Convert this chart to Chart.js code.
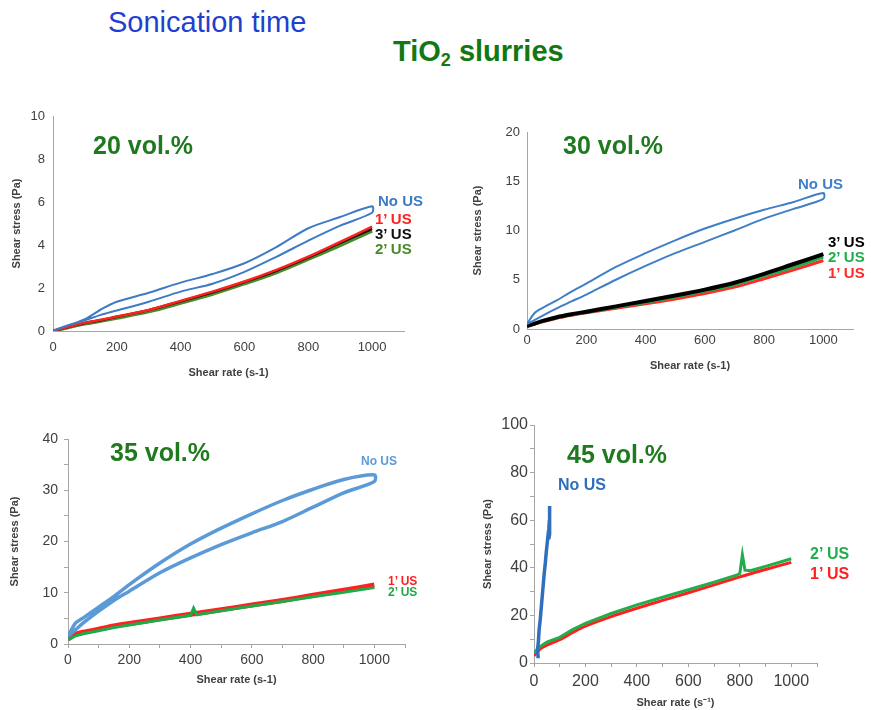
<!DOCTYPE html>
<html>
<head>
<meta charset="utf-8">
<script src="https://cdn.jsdelivr.net/npm/chart.js@4.4.1/dist/chart.umd.min.js"></script>
<style>
  body { margin: 0; width: 871px; height: 710px; background: #fff; position: relative; overflow: hidden;
         font-family: "Liberation Sans", Arial, sans-serif; }
  canvas { position: absolute; }
  .t { position: absolute; line-height: 1; white-space: nowrap; font-weight: bold; }
</style>
</head>
<body>
<div class="t" style="left:108px;top:8px;font-size:29px;font-weight:normal;color:#1f3fd0">Sonication time</div>
<div class="t" style="left:393px;top:37px;font-size:29px;color:#137813">TiO<sub style="font-size:18px;vertical-align:-5px">2</sub> slurries</div>

<canvas id="c20" width="440" height="290" style="left:0;top:100px"></canvas>
<canvas id="c30" width="431" height="270" style="left:440px;top:110px"></canvas>
<canvas id="c35" width="440" height="300" style="left:0;top:410px"></canvas>
<canvas id="c45" width="411" height="300" style="left:460px;top:410px"></canvas>

<div class="t" style="left:93px;top:133px;font-size:25px;color:#1f7a1f">20 vol.%</div>
<div class="t" style="left:563px;top:133px;font-size:25px;color:#1f7a1f">30 vol.%</div>
<div class="t" style="left:110px;top:440px;font-size:25px;color:#1f7a1f">35 vol.%</div>
<div class="t" style="left:567px;top:442px;font-size:25px;color:#1f7a1f">45 vol.%</div>

<div class="t" style="left:378px;top:193px;font-size:15px;color:#3d7cc4">No US</div>
<div class="t" style="left:375px;top:211px;font-size:15px;color:#ff2020">1’ US</div>
<div class="t" style="left:375px;top:226px;font-size:15px;color:#111">3’ US</div>
<div class="t" style="left:375px;top:241px;font-size:15px;color:#4a8a2a">2’ US</div>

<div class="t" style="left:798px;top:176px;font-size:15px;color:#3f7fc6">No US</div>
<div class="t" style="left:828px;top:234px;font-size:15px;color:#000">3’ US</div>
<div class="t" style="left:828px;top:249px;font-size:15px;color:#1fae4a">2’ US</div>
<div class="t" style="left:828px;top:265px;font-size:15px;color:#ff2a2a">1’ US</div>

<div class="t" style="left:361px;top:455px;font-size:12px;color:#5b9ad6">No US</div>
<div class="t" style="left:388px;top:575px;font-size:12px;color:#ff2020">1’ US</div>
<div class="t" style="left:388px;top:586px;font-size:12px;color:#1faa4a">2’ US</div>

<div class="t" style="left:558px;top:477px;font-size:16px;color:#2f6fbd">No US</div>
<div class="t" style="left:810px;top:546px;font-size:16px;color:#22ad4c">2’ US</div>
<div class="t" style="left:810px;top:566px;font-size:16px;color:#ff1f1f">1’ US</div>

<script>
// shear rate (s-1) where values were read, ramp up and ramp down
const RATE_UP = [0, 25, 50, 100, 150, 200, 300, 400, 500, 600, 700, 800, 900, 1000];
const RATE_DOWN = [1000, 900, 800, 700, 600, 500, 400, 300, 200, 150, 100, 50, 25, 0];

// 20 vol.%  shear stress (Pa)
const p20NoUsUp = [0, 0.15, 0.28, 0.55, 1.0, 1.36, 1.78, 2.25, 2.65, 3.15, 3.9, 4.78, 5.3, 5.8];
const p20NoUsDown = [5.5, 4.9, 4.2, 3.45, 2.75, 2.2, 1.83, 1.36, 0.95, 0.75, 0.5, 0.28, 0.15, 0];
const p20Us1 = [0, 0.1, 0.2, 0.38, 0.52, 0.67, 0.98, 1.4, 1.83, 2.3, 2.84, 3.46, 4.15, 4.85];
const p20Us3 = [0, 0.1, 0.2, 0.37, 0.5, 0.66, 0.97, 1.38, 1.8, 2.28, 2.8, 3.42, 4.1, 4.75];
const p20Us2 = [0, 0.08, 0.17, 0.33, 0.46, 0.6, 0.9, 1.3, 1.72, 2.2, 2.72, 3.34, 3.98, 4.65];

// 30 vol.%
const p30NoUsUp = [0.5, 1.6, 2.1, 2.9, 3.8, 4.6, 6.3, 7.7, 9.0, 10.2, 11.2, 12.1, 12.9, 13.8];
const p30NoUsDown = [13.2, 12.2, 11.2, 10.0, 8.85, 7.7, 6.4, 5.0, 3.5, 2.8, 2.1, 1.3, 0.9, 0.5];
const p30Us3 = [0.3, 0.55, 0.8, 1.2, 1.5, 1.75, 2.3, 2.85, 3.4, 4.0, 4.7, 5.6, 6.6, 7.6];
const p30Us2 = [0.3, 0.5, 0.75, 1.15, 1.45, 1.7, 2.2, 2.7, 3.25, 3.85, 4.5, 5.4, 6.3, 7.3];
const p30Us1 = [0.3, 0.5, 0.7, 1.1, 1.4, 1.65, 2.1, 2.55, 3.05, 3.6, 4.25, 5.1, 6.0, 6.95];

// 35 vol.%
const p35NoUsUp = [1.5, 4.1, 5.1, 7.2, 9.3, 11.6, 15.8, 19.5, 22.6, 25.4, 28.0, 30.2, 32.1, 33.0];
const p35NoUsDown = [31.7, 29.5, 26.7, 23.9, 21.7, 19.4, 16.8, 13.9, 10.3, 8.5, 6.4, 4.1, 2.8, 1.5];
const p35Us1 = [1.0, 1.9, 2.3, 2.9, 3.5, 4.0, 4.9, 5.8, 6.7, 7.6, 8.5, 9.5, 10.5, 11.5];
const p35Us2Rate = [0, 25, 50, 100, 150, 200, 300, 400, 410, 420, 500, 600, 700, 800, 900, 1000];
const p35Us2 = [0.8, 1.6, 2.0, 2.6, 3.2, 3.7, 4.7, 5.6, 7.0, 5.7, 6.5, 7.4, 8.3, 9.2, 10.1, 11.0];

// 45 vol.%
const p45NoUsRate = [16, 14, 17, 20, 24, 28, 32, 36, 40, 44, 48, 52, 56, 58, 60, 62, 61, 59, 57];
const p45NoUs = [2, 6, 9, 14, 18, 23, 28, 33, 38, 42, 47, 51, 55, 57, 60, 66, 58, 54, 52];
const p45Us2Rate = [0, 10, 25, 50, 100, 150, 200, 300, 400, 500, 600, 700, 790, 800, 810, 820, 840, 900, 1000];
const p45Us2 = [4, 5.5, 7, 8.8, 10.8, 14, 16.7, 20.8, 24.4, 27.6, 30.8, 34, 37, 37.6, 45.5, 39, 38.8, 40.6, 43.8];
const p45Us1Rate = [0, 10, 25, 50, 100, 150, 200, 300, 400, 500, 600, 700, 800, 900, 1000];
const p45Us1 = [3, 4.5, 6, 7.5, 9.8, 12.8, 15.5, 19.5, 23, 26.3, 29.5, 32.8, 36.2, 39.3, 42.3];

const AXIS = '#a6a6a6';
const TEXT = '#404040';
Chart.defaults.font.family = '"Liberation Sans", Arial, sans-serif';

function pts(xs, ys) {
  return xs.map((x, i) => ({ x: x, y: ys[i] }));
}
function loop(up, down) {
  return pts(RATE_UP, up).concat(pts(RATE_DOWN, down));
}
function line(label, data, color, width, tension) {
  return { label: label, data: data, borderColor: color, borderWidth: width, pointRadius: 0,
           fill: false, tension: tension === undefined ? 0.3 : tension };
}

function panel(id, o) {
  new Chart(document.getElementById(id), {
    type: 'line',
    data: { datasets: o.datasets },
    options: {
      responsive: false,
      animation: false,
      layout: { padding: { left: 0, top: o.top, right: o.right, bottom: 0 } },
      plugins: { legend: { display: false }, tooltip: { enabled: false } },
      scales: {
        x: {
          type: 'linear', min: 0, max: 1100,
          afterFit: s => { s.height = o.xh; },
          border: { color: AXIS, width: 1 },
          grid: { display: o.minor, drawOnChartArea: false, drawTicks: o.minor, tickLength: 4, color: AXIS },
          ticks: {
            stepSize: o.minor ? 100 : 200, includeBounds: false, autoSkip: false, maxRotation: 0,
            padding: o.xpad, color: TEXT, font: { size: o.fs },
            callback: v => (v % 200 === 0 ? v : '')
          },
          title: { display: true, text: o.xtitle || 'Shear rate (s-1)', color: TEXT,
                   font: { size: 11, weight: 'bold' }, padding: { top: 0, bottom: o.xtp } }
        },
        y: {
          min: 0, max: o.ymax,
          afterFit: s => { s.width = o.left; },
          border: { color: AXIS, width: 1 },
          grid: { display: o.minor, drawOnChartArea: false, drawTicks: o.minor, tickLength: 4, color: AXIS },
          ticks: {
            stepSize: o.minor ? o.ystep / 2 : o.ystep, autoSkip: false,
            padding: o.ypad, color: TEXT, font: { size: o.fs },
            callback: v => (v % o.ystep === 0 ? v : '')
          },
          title: { display: true, text: 'Shear stress (Pa)', color: TEXT,
                   font: { size: 11, weight: 'bold' }, padding: { top: o.ytp, bottom: 0 } }
        }
      }
    }
  });
}

panel('c20', {
  left: 53, top: 16, right: 36, xh: 59, fs: 13, minor: false,
  xpad: 9, ypad: 8, ytp: 10.4, xtp: 10.4, ymax: 10, ystep: 2,
  datasets: [
    line('No US', loop(p20NoUsUp, p20NoUsDown), '#3d7cc4', 2),
    line('1’ US', pts(RATE_UP, p20Us1), '#ff2020', 2.5),
    line('3’ US', pts(RATE_UP, p20Us3), '#111111', 2.5),
    line('2’ US', pts(RATE_UP, p20Us2), '#4a8a2a', 3.5)
  ]
});

panel('c30', {
  left: 87, top: 22, right: 18, xh: 51, fs: 13, minor: false,
  xpad: 4, ypad: 7, ytp: 31.4, xtp: 7.4, ymax: 20, ystep: 5,
  datasets: [
    line('No US', loop(p30NoUsUp, p30NoUsDown), '#3f7fc6', 2),
    line('3’ US', pts(RATE_UP, p30Us3), '#000000', 4),
    line('2’ US', pts(RATE_UP, p30Us2), '#1fae4a', 3),
    line('1’ US', pts(RATE_UP, p30Us1), '#ff2a2a', 3)
  ]
});

panel('c35', {
  left: 68, top: 29, right: 35, xh: 66, fs: 14, minor: true,
  xpad: 4, ypad: 6, ytp: 8.4, xtp: 23.4, ymax: 40, ystep: 10,
  datasets: [
    line('No US', loop(p35NoUsUp, p35NoUsDown), '#5b9ad6', 3.5),
    line('2’ US', pts(p35Us2Rate, p35Us2), '#1faa4a', 3, 0),
    line('1’ US', pts(RATE_UP, p35Us1), '#ff2020', 5)
  ]
});

panel('c45', {
  left: 74, top: 15, right: 54, xh: 47, fs: 16, minor: true,
  xpad: 5, ypad: 2, ytp: 21.4, xtp: 0.4, ymax: 100, ystep: 20,
  xtitle: 'Shear rate (s⁻¹)',
  datasets: [
    line('No US', pts(p45NoUsRate, p45NoUs), '#2f6fbd', 3.5, 0),
    line('2’ US', pts(p45Us2Rate, p45Us2), '#22ad4c', 3, 0),
    line('1’ US', pts(p45Us1Rate, p45Us1), '#ff1f1f', 3)
  ]
});
</script>
</body>
</html>
